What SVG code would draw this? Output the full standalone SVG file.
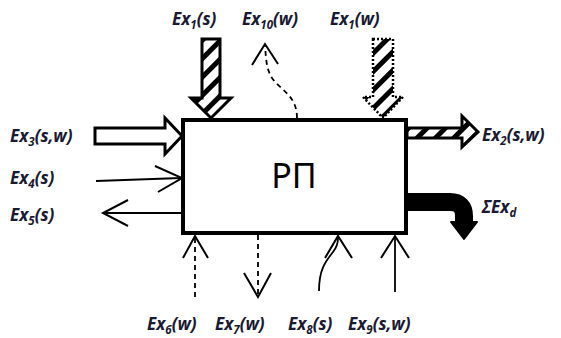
<svg xmlns="http://www.w3.org/2000/svg" width="561" height="338" viewBox="0 0 561 338">
<defs>
<pattern id="hatch" patternUnits="userSpaceOnUse" width="13" height="13" patternTransform="rotate(45)">
<rect width="13" height="13" fill="#fff"/>
<rect width="5" height="13" fill="#000"/>
</pattern>
</defs>
<style>
.lbl{font-family:"Noto Sans","Open Sans",sans-serif;font-weight:bold;font-style:italic;font-size:17px;fill:#1a1a33}
.sub{font-size:11.5px}
.thin{fill:none;stroke:#000;stroke-width:1.8}
.dash{stroke-dasharray:5,4}
.chev{fill:none;stroke:#000;stroke-width:2}
</style>
<rect width="561" height="338" fill="#fff"/>
<g id="RP">
<rect x="183" y="120" width="223" height="113" fill="#fff" stroke="#000" stroke-width="4"/>
<text x="294" y="188" text-anchor="middle" font-family="'Noto Sans','Open Sans',sans-serif" font-size="34" fill="#000">РП</text>
</g>
<g id="connectors">
<polygon id="ex1s" points="202,39 220,39 220,98 231,98 211,118 191,98 202,98" fill="url(#hatch)" stroke="#000" stroke-width="3"/>
<polygon id="ex1w" points="373,39 393,39 393,97 403,97 383,118 363,97 373,97" fill="url(#hatch)" stroke="#000" stroke-width="2.5" stroke-dasharray="2,2"/>
<path id="ex10w" class="thin dash" d="M297,118 C297,95 280,90 272,78 C266,68 266,58 265,45"/>
<path class="chev" d="M252,65 L265,44 L278,64"/>
<polygon id="ex3" points="95,128 165,128 165,118 182,136 165,154 165,144 95,144" fill="#fff" stroke="#000" stroke-width="3"/>
<path id="ex4" class="thin" d="M96,181 L181,178"/>
<path class="chev" d="M155,166 L182,178 L158,192"/>
<path id="ex5" class="thin" d="M182,213 L104,213"/>
<path class="chev" d="M128,200 L103,213 L128,226"/>
<polygon id="ex2" points="407,128 462,128 462,116 478,132 462,147 462,138 407,138" fill="url(#hatch)" stroke="#000" stroke-width="3"/>
<path id="exd" d="M407,202 L450,202 Q464,202 464,216 L464,224" fill="none" stroke="#000" stroke-width="18"/>
<polygon points="451,222 477,222 464,239" fill="#000" stroke="#000" stroke-width="2" stroke-linejoin="round"/>
<path id="ex6" class="thin dash" d="M195,297 L195,238"/>
<path class="chev" d="M183,258 L195,236 L208,258"/>
<path id="ex7" class="thin dash" d="M258,235 L258,296"/>
<path class="chev" d="M244,273 L258,297 L271,273"/>
<path id="ex8" class="thin" d="M319,291 C319,270 325,262 333,252 C337,247 338,242 338,238"/>
<path class="chev" d="M325,258 L338,236 L352,258"/>
<path id="ex9" class="thin" d="M395,292 L395,238"/>
<path class="chev" d="M381,258 L395,236 L409,258"/>
</g>
<g id="labels">
<text class="lbl" x="172" y="25">Ex<tspan class="sub" dy="4">1</tspan><tspan dy="-4">(s)</tspan></text>
<text class="lbl" x="242" y="25">Ex<tspan class="sub" dy="4">10</tspan><tspan dy="-4">(w)</tspan></text>
<text class="lbl" x="330" y="25">Ex<tspan class="sub" dy="4">1</tspan><tspan dy="-4">(w)</tspan></text>
<text class="lbl" x="10" y="142">Ex<tspan class="sub" dy="4">3</tspan><tspan dy="-4">(s,w)</tspan></text>
<text class="lbl" x="10" y="184">Ex<tspan class="sub" dy="4">4</tspan><tspan dy="-4">(s)</tspan></text>
<text class="lbl" x="10" y="221">Ex<tspan class="sub" dy="4">5</tspan><tspan dy="-4">(s)</tspan></text>
<text class="lbl" x="482" y="141">Ex<tspan class="sub" dy="4">2</tspan><tspan dy="-4">(s,w)</tspan></text>
<text class="lbl" x="482" y="213">ΣEx<tspan class="sub" dy="4">d</tspan></text>
<text class="lbl" x="147" y="330">Ex<tspan class="sub" dy="4">6</tspan><tspan dy="-4">(w)</tspan></text>
<text class="lbl" x="215" y="330">Ex<tspan class="sub" dy="4">7</tspan><tspan dy="-4">(w)</tspan></text>
<text class="lbl" x="288" y="330">Ex<tspan class="sub" dy="4">8</tspan><tspan dy="-4">(s)</tspan></text>
<text class="lbl" x="348" y="330">Ex<tspan class="sub" dy="4">9</tspan><tspan dy="-4">(s,w)</tspan></text>
</g>
</svg>
